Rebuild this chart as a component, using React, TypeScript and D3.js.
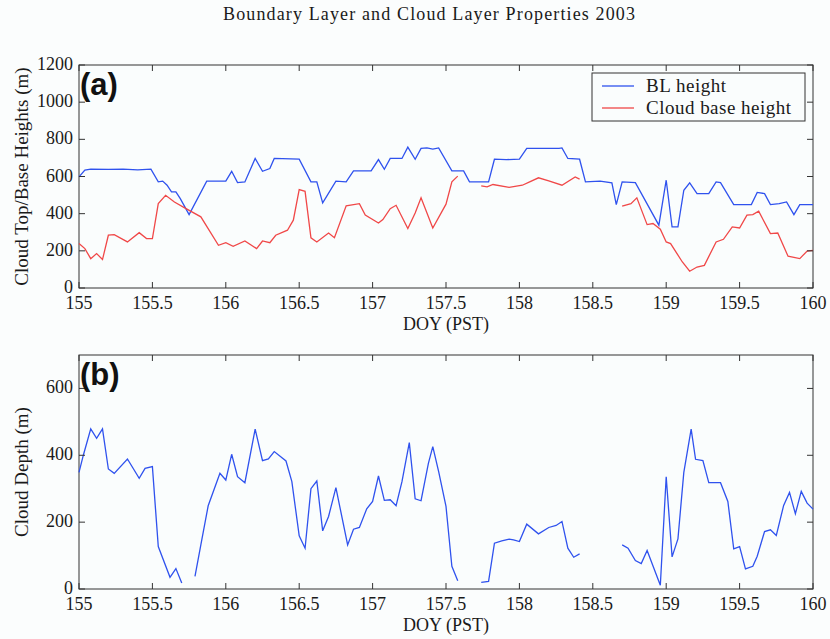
import * as d3 from 'd3';

// Panel (a): BL height (blue) and cloud base height (red), metres
const blDoy = [155.0, 155.04, 155.08, 155.2, 155.3, 155.4, 155.49, 155.54, 155.57, 155.6, 155.63, 155.66, 155.69, 155.75, 155.87, 156.0, 156.04, 156.08, 156.13, 156.2, 156.25, 156.3, 156.33, 156.5, 156.58, 156.62, 156.66, 156.75, 156.82, 156.87, 156.99, 157.04, 157.08, 157.12, 157.2, 157.24, 157.29, 157.33, 157.37, 157.41, 157.45, 157.54, 157.62, 157.66, 157.79, 157.83, 157.91, 158.0, 158.05, 158.27, 158.29, 158.33, 158.41, 158.45, 158.55, 158.63, 158.66, 158.7, 158.79, 158.95, 159.0, 159.04, 159.08, 159.12, 159.16, 159.21, 159.29, 159.34, 159.37, 159.46, 159.58, 159.62, 159.67, 159.71, 159.77, 159.82, 159.87, 159.91, 160.0];
const blHeight = [598, 634, 640, 638, 640, 636, 640, 571, 575, 553, 517, 517, 481, 395, 575, 575, 628, 567, 571, 697, 628, 643, 697, 693, 571, 571, 458, 575, 571, 630, 630, 691, 639, 697, 697, 758, 693, 751, 754, 747, 754, 630, 630, 571, 571, 693, 691, 693, 751, 751, 754, 697, 693, 571, 575, 566, 449, 571, 567, 338, 580, 329, 329, 526, 566, 508, 508, 571, 567, 449, 449, 514, 508, 449, 454, 463, 395, 449, 449];

const cbDoy = [155.0, 155.04, 155.08, 155.12, 155.16, 155.2, 155.24, 155.33, 155.41, 155.46, 155.5, 155.54, 155.59, 155.65, 155.72, 155.83, 155.95, 156.0, 156.05, 156.13, 156.21, 156.25, 156.3, 156.34, 156.42, 156.46, 156.5, 156.54, 156.58, 156.62, 156.7, 156.74, 156.82, 156.91, 156.95, 157.04, 157.07, 157.12, 157.16, 157.24, 157.29, 157.33, 157.41, 157.5, 157.54, 157.58, 157.66, 157.74, 157.78, 157.82, 157.93, 158.02, 158.07, 158.13, 158.2, 158.29, 158.38, 158.41, 158.55, 158.7, 158.76, 158.8, 158.87, 158.91, 158.96, 159.0, 159.03, 159.11, 159.16, 159.21, 159.26, 159.34, 159.39, 159.45, 159.5, 159.55, 159.59, 159.63, 159.71, 159.76, 159.83, 159.91, 159.96, 160.0];
const cbHeight = [239, 212, 158, 185, 153, 284, 287, 248, 298, 266, 266, 454, 499, 463, 431, 383, 230, 244, 224, 253, 212, 253, 244, 284, 311, 365, 530, 520, 270, 248, 296, 271, 442, 454, 392, 350, 368, 427, 445, 320, 404, 485, 323, 451, 571, 602, null, 550, 544, 557, 541, 553, 571, 593, 577, 553, 598, 586, null, 440, 454, 485, 341, 347, 316, 248, 239, 140, 90, 113, 122, 248, 262, 329, 323, 392, 395, 413, 293, 296, 171, 158, 199, 203];

// Panel (b): cloud depth, metres
const cdDoy = [155.0, 155.03, 155.08, 155.12, 155.16, 155.2, 155.24, 155.33, 155.41, 155.45, 155.5, 155.54, 155.62, 155.66, 155.7, 155.75, 155.79, 155.83, 155.88, 155.96, 156.0, 156.04, 156.08, 156.13, 156.2, 156.25, 156.29, 156.33, 156.41, 156.45, 156.5, 156.54, 156.58, 156.62, 156.66, 156.7, 156.75, 156.83, 156.87, 156.91, 156.96, 157.0, 157.04, 157.08, 157.12, 157.16, 157.2, 157.25, 157.29, 157.33, 157.38, 157.41, 157.45, 157.5, 157.54, 157.58, 157.66, 157.74, 157.79, 157.83, 157.88, 157.93, 157.96, 158.0, 158.05, 158.13, 158.2, 158.25, 158.29, 158.33, 158.37, 158.41, 158.55, 158.7, 158.74, 158.79, 158.83, 158.87, 158.96, 159.0, 159.04, 159.08, 159.12, 159.17, 159.2, 159.25, 159.29, 159.37, 159.42, 159.46, 159.5, 159.54, 159.59, 159.62, 159.67, 159.71, 159.75, 159.8, 159.84, 159.88, 159.92, 159.96, 160.0];
const cdDepth = [349, 401, 479, 451, 479, 359, 346, 389, 331, 361, 366, 127, 35, 61, 18, null, 38, 132, 249, 346, 326, 403, 336, 318, 478, 384, 389, 411, 383, 321, 159, 122, 300, 323, 174, 217, 303, 132, 179, 184, 240, 262, 338, 265, 267, 249, 321, 438, 270, 264, 376, 426, 351, 247, 68, 25, null, 20, 23, 137, 144, 149, 147, 142, 194, 165, 184, 190, 202, 122, 95, 105, null, 132, 122, 85, 76, 115, 11, 336, 96, 150, 349, 478, 388, 384, 318, 318, 262, 120, 127, 60, 68, 98, 172, 177, 160, 250, 289, 225, 292, 257, 239];

const xTicks = [155, 155.5, 156, 156.5, 157, 157.5, 158, 158.5, 159, 159.5, 160];
const yTicksA = [0, 200, 400, 600, 800, 1000, 1200];
const yTicksB = [0, 200, 400, 600];

const BLUE = '#2f52ee';
const RED = '#f04848';
const INK = '#1a1a1a';
const SERIF = '"Liberation Serif", "Times New Roman", serif';

const left = 79;
const right = 813;

type PanelProps = {
  top: number;
  bottom: number;
  yMax: number;
  yTicks: number[];
  yLabel: string;
  tag: string;
  series: { doy: number[]; vals: (number | null)[]; color: string }[];
  legend?: boolean;
};

function Panel({ top, bottom, yMax, yTicks, yLabel, tag, series, legend }: PanelProps) {
  const x = d3.scaleLinear().domain([155, 160]).range([left, right]);
  const y = d3.scaleLinear().domain([0, yMax]).range([bottom, top]);
  const tk = 6;
  return (
    <g>
      <rect x={left} y={top} width={right - left} height={bottom - top} fill="#fafdfd" stroke="#333" strokeWidth={1} />
      {series.map((s, i) => {
        const pts = s.doy.map((d, j) => [d, s.vals[j]] as [number, number | null]);
        const line = d3
          .line<[number, number | null]>()
          .defined((p) => p[1] !== null)
          .x((p) => x(p[0]))
          .y((p) => y(p[1] as number));
        return <path key={i} d={line(pts) || ''} fill="none" stroke={s.color} strokeWidth={1.3} />;
      })}
      {xTicks.map((t) => (
        <g key={'x' + t}>
          <line x1={x(t)} x2={x(t)} y1={bottom} y2={bottom - tk} stroke="#333" />
          <line x1={x(t)} x2={x(t)} y1={top} y2={top + tk} stroke="#333" />
          <text x={x(t)} y={bottom + 21} textAnchor="middle" fontFamily={SERIF} fontSize={18} fill={INK}>
            {t}
          </text>
        </g>
      ))}
      {yTicks.map((t) => (
        <g key={'y' + t}>
          <line x1={left} x2={left + tk} y1={y(t)} y2={y(t)} stroke="#333" />
          <line x1={right} x2={right - tk} y1={y(t)} y2={y(t)} stroke="#333" />
          <text x={left - 6} y={y(t) + 5} textAnchor="end" fontFamily={SERIF} fontSize={18} fill={INK}>
            {t}
          </text>
        </g>
      ))}
      <text x={(left + right) / 2} y={bottom + 42} textAnchor="middle" fontFamily={SERIF} fontSize={18} fill={INK}>
        DOY (PST)
      </text>
      <text
        transform={`translate(28,${(top + bottom) / 2}) rotate(-90)`}
        textAnchor="middle"
        fontFamily={SERIF}
        fontSize={19}
        fill={INK}
      >
        {yLabel}
      </text>
      <text x={left + 1} y={top + 30} fontFamily="Arial, 'Liberation Sans', sans-serif" fontWeight="bold" fontSize={31} fill="#111">
        {tag}
      </text>
      {legend && (
        <g>
          <rect x={592} y={73} width={213} height={48} fill="#fafdfd" stroke="#333" />
          <line x1={602} x2={634} y1={86} y2={86} stroke={BLUE} strokeWidth={1.3} />
          <line x1={602} x2={634} y1={108} y2={108} stroke={RED} strokeWidth={1.3} />
          <text x={646} y={92} fontFamily={SERIF} fontSize={19} textLength={80} lengthAdjust="spacing" fill={INK}>
            BL height
          </text>
          <text x={646} y={114} fontFamily={SERIF} fontSize={19} textLength={145} lengthAdjust="spacing" fill={INK}>
            Cloud base height
          </text>
        </g>
      )}
    </g>
  );
}

export default function App() {
  return (
    <svg width={830} height={639} style={{ position: 'absolute', left: 0, top: 0, background: '#fbfdfd' }}>
      <text x={223} y={20} fontFamily={SERIF} fontSize={18} textLength={412} lengthAdjust="spacing" fill={INK}>
        Boundary Layer and Cloud Layer Properties 2003
      </text>
      <Panel
        top={65}
        bottom={288}
        yMax={1200}
        yTicks={yTicksA}
        yLabel="Cloud Top/Base Heights (m)"
        tag="(a)"
        legend
        series={[
          { doy: blDoy, vals: blHeight, color: BLUE },
          { doy: cbDoy, vals: cbHeight, color: RED },
        ]}
      />
      <Panel
        top={355}
        bottom={589}
        yMax={700}
        yTicks={yTicksB}
        yLabel="Cloud Depth (m)"
        tag="(b)"
        series={[{ doy: cdDoy, vals: cdDepth, color: BLUE }]}
      />
    </svg>
  );
}
